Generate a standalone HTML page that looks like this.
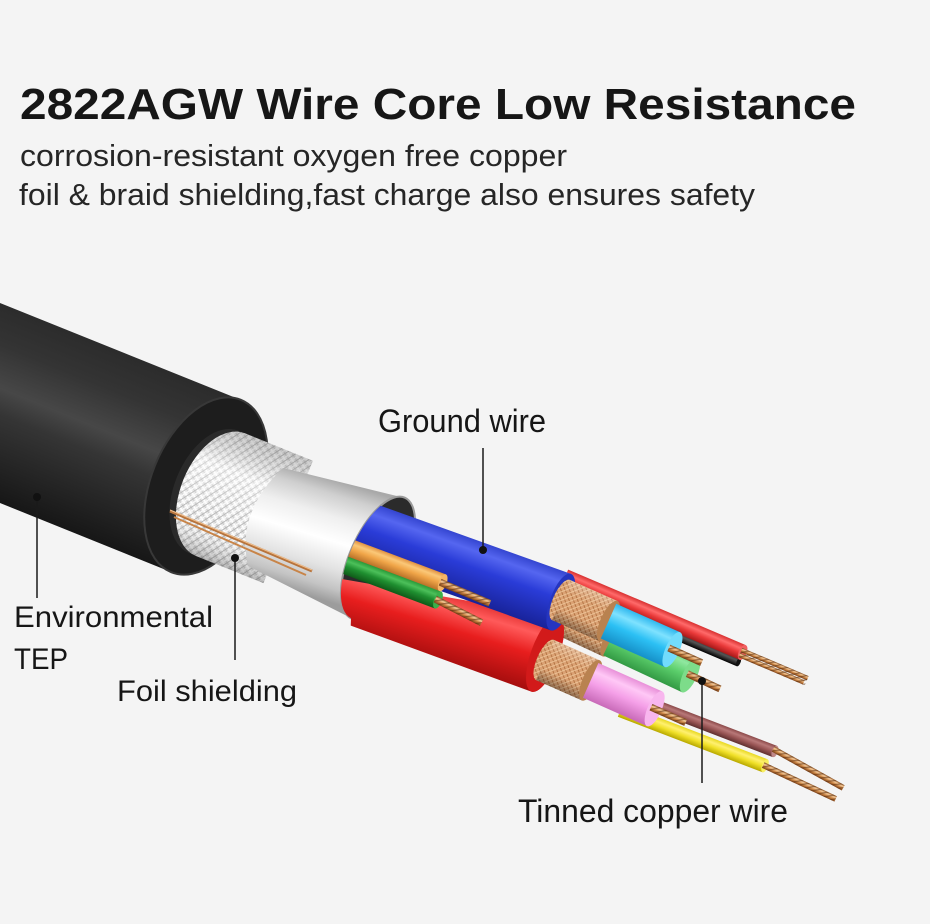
<!DOCTYPE html>
<html><head><meta charset="utf-8"><style>
html,body{margin:0;padding:0;background:#f4f4f4;}
svg{display:block}
text{font-family:"Liberation Sans",Arial,sans-serif;fill:#161616}
</style></head><body>
<svg width="930" height="924" viewBox="0 0 930 924" xmlns="http://www.w3.org/2000/svg">
<defs>
 <linearGradient id="jk" gradientUnits="userSpaceOnUse" x1="130" y1="357" x2="60" y2="529">
  <stop offset="0" stop-color="#2c2c2c"/><stop offset="0.2" stop-color="#343434"/>
  <stop offset="0.42" stop-color="#474747"/><stop offset="0.55" stop-color="#353535"/>
  <stop offset="0.8" stop-color="#242424"/><stop offset="1" stop-color="#161616"/>
 </linearGradient>
 <linearGradient id="fo" gradientUnits="userSpaceOnUse" x1="335" y1="480" x2="300" y2="593">
  <stop offset="0" stop-color="#a9a9a9"/><stop offset="0.12" stop-color="#cfcfcf"/>
  <stop offset="0.3" stop-color="#efefef"/><stop offset="0.5" stop-color="#ffffff"/>
  <stop offset="0.72" stop-color="#e3e3e3"/><stop offset="0.88" stop-color="#c4c4c4"/>
  <stop offset="1" stop-color="#9c9c9c"/>
 </linearGradient>
 <linearGradient id="gRb" gradientUnits="userSpaceOnUse" x1="460" y1="596" x2="440" y2="662">
  <stop offset="0" stop-color="#e23030"/><stop offset="0.2" stop-color="#ff5a5a"/>
  <stop offset="0.5" stop-color="#e81e1e"/><stop offset="1" stop-color="#a80e0e"/>
 </linearGradient>
 <linearGradient id="sh" x1="0" y1="0" x2="0" y2="1">
  <stop offset="0" stop-color="#fff" stop-opacity="0.25"/><stop offset="0.3" stop-color="#fff" stop-opacity="0"/>
  <stop offset="0.7" stop-color="#000" stop-opacity="0"/><stop offset="1" stop-color="#000" stop-opacity="0.35"/>
 </linearGradient>
 <linearGradient id="bsh" x1="0" y1="0" x2="0" y2="1">
  <stop offset="0" stop-color="#777" stop-opacity="0.35"/><stop offset="0.3" stop-color="#fff" stop-opacity="0.5"/>
  <stop offset="0.5" stop-color="#fff" stop-opacity="0.3"/><stop offset="0.75" stop-color="#fff" stop-opacity="0.05"/>
  <stop offset="1" stop-color="#555" stop-opacity="0.4"/>
 </linearGradient>
 <linearGradient id="gB" x1="0" y1="0" x2="0" y2="1">
  <stop offset="0" stop-color="#3445d0"/><stop offset="0.18" stop-color="#5566f0"/>
  <stop offset="0.45" stop-color="#2a3cd8"/><stop offset="1" stop-color="#18239a"/>
 </linearGradient>
 <linearGradient id="gO" x1="0" y1="0" x2="0" y2="1">
  <stop offset="0" stop-color="#e09040"/><stop offset="0.25" stop-color="#fbc878"/>
  <stop offset="0.55" stop-color="#f0a548"/><stop offset="1" stop-color="#b87028"/>
 </linearGradient>
 <linearGradient id="gG" x1="0" y1="0" x2="0" y2="1">
  <stop offset="0" stop-color="#2a9a38"/><stop offset="0.25" stop-color="#4cc05a"/>
  <stop offset="0.55" stop-color="#1f8f30"/><stop offset="1" stop-color="#0f5a18"/>
 </linearGradient>
 <linearGradient id="gC" x1="0" y1="0" x2="0" y2="1">
  <stop offset="0" stop-color="#30b8ee"/><stop offset="0.25" stop-color="#7fe2ff"/>
  <stop offset="0.55" stop-color="#2cc0f4"/><stop offset="1" stop-color="#1690c8"/>
 </linearGradient>
 <linearGradient id="gL" x1="0" y1="0" x2="0" y2="1">
  <stop offset="0" stop-color="#50c060"/><stop offset="0.25" stop-color="#90e8a0"/>
  <stop offset="0.55" stop-color="#5ccf6c"/><stop offset="1" stop-color="#339a44"/>
 </linearGradient>
 <linearGradient id="gP" x1="0" y1="0" x2="0" y2="1">
  <stop offset="0" stop-color="#e890d8"/><stop offset="0.25" stop-color="#ffc8f6"/>
  <stop offset="0.55" stop-color="#f5a0e8"/><stop offset="1" stop-color="#c86ab8"/>
 </linearGradient>
 <linearGradient id="gY" x1="0" y1="0" x2="0" y2="1">
  <stop offset="0" stop-color="#e8d820"/><stop offset="0.3" stop-color="#fff070"/>
  <stop offset="0.6" stop-color="#f0e028"/><stop offset="1" stop-color="#b8a800"/>
 </linearGradient>
 <linearGradient id="gN" x1="0" y1="0" x2="0" y2="1">
  <stop offset="0" stop-color="#8a4848"/><stop offset="0.3" stop-color="#b87878"/>
  <stop offset="0.6" stop-color="#9a5656"/><stop offset="1" stop-color="#603030"/>
 </linearGradient>
 <linearGradient id="gT" x1="0" y1="0" x2="0" y2="1">
  <stop offset="0" stop-color="#d83030"/><stop offset="0.3" stop-color="#ff6a6a"/>
  <stop offset="0.6" stop-color="#e83838"/><stop offset="1" stop-color="#a81818"/>
 </linearGradient>
 <linearGradient id="gK" x1="0" y1="0" x2="0" y2="1">
  <stop offset="0" stop-color="#333"/><stop offset="0.4" stop-color="#555"/><stop offset="1" stop-color="#000"/>
 </linearGradient>
 <linearGradient id="gU" x1="0" y1="0" x2="0" y2="1">
  <stop offset="0" stop-color="#8a5020"/><stop offset="0.3" stop-color="#f3c99a"/>
  <stop offset="0.6" stop-color="#d08a48"/><stop offset="1" stop-color="#7a4018"/>
 </linearGradient>
 <pattern id="bw" width="6" height="6" patternUnits="userSpaceOnUse" patternTransform="rotate(35)">
  <rect width="6" height="6" fill="#e4e4e4"/>
  <rect width="6" height="1.6" fill="#ffffff"/>
  <rect y="3.2" width="6" height="0.8" fill="#bdbdbd"/>
  <rect width="0.9" height="6" fill="#a8a8a8"/>
  <rect x="3" width="1.2" height="6" fill="#fbfbfb"/>
 </pattern>
 <pattern id="cb" width="4" height="4" patternUnits="userSpaceOnUse" patternTransform="rotate(45)">
  <rect width="4" height="4" fill="#dba274"/>
  <rect width="4" height="0.9" fill="#b07040"/>
  <rect width="0.8" height="4" fill="#f0c89c"/>
 </pattern>
 <pattern id="tw" width="4" height="4" patternUnits="userSpaceOnUse" patternTransform="rotate(55)">
  <rect width="1.3" height="4" fill="rgba(90,45,15,0.55)"/>
 </pattern>
 <clipPath id="wc">
  <ellipse cx="378" cy="558" rx="28" ry="66" transform="rotate(24 378 558)"/>
  <polygon points="405,498 420,0 930,0 930,924 340,924 351,618"/>
 </clipPath>
</defs>

<rect width="930" height="924" fill="#f4f4f4"/>

<!-- header text -->
<text x="20" y="119" font-size="44" font-weight="bold" textLength="836" lengthAdjust="spacingAndGlyphs">2822AGW Wire Core Low Resistance</text>
<text x="20" y="166" font-size="31" textLength="547" lengthAdjust="spacingAndGlyphs" style="fill:#262626">corrosion-resistant oxygen free copper</text>
<text x="19" y="205" font-size="31" textLength="736" lengthAdjust="spacingAndGlyphs" style="fill:#262626">foil &amp; braid shielding,fast charge also ensures safety</text>

<!-- jacket -->
<path d="M0,303 L241,400 L171,572 L0,503 Z" fill="url(#jk)"/>
<g transform="translate(206,486) rotate(22)">
 <ellipse rx="55" ry="93" fill="#1d1d1d" stroke="#383838" stroke-width="2"/>
</g>
<!-- braid -->
<g transform="translate(214,492) rotate(22)">
 <ellipse rx="40" ry="66" fill="#2a2a2a"/>
 <path d="M7,-66 L80,-66 L80,66 L7,66 A40,66 0 0 1 7,-66 Z" fill="url(#bw)"/>
 <path d="M7,-66 L80,-66 L80,66 L7,66 A40,66 0 0 1 7,-66 Z" fill="url(#bsh)"/>
</g>

<!-- foil tube -->
<path d="M283,468 L405,498 A28,66 24 0 1 351,618 L248,566 Q236,512 283,468 Z" fill="url(#fo)"/>
<ellipse cx="378" cy="558" rx="28" ry="66" transform="rotate(24 378 558)" fill="#2b2b2b" stroke="#9a9a9a" stroke-width="2"/>

<!-- drain wire -->
<line x1="170" y1="511" x2="312" y2="571" stroke="#b8743c" stroke-width="3"/>
<line x1="170" y1="510" x2="312" y2="570" stroke="#f0c090" stroke-width="1"/>
<line x1="174" y1="517" x2="306" y2="575" stroke="#c88448" stroke-width="2"/>

<!-- wires -->
<g clip-path="url(#wc)">
 <g transform="translate(560,576) rotate(23)">
  <rect x="5" y="5" width="193" height="9" fill="url(#gK)"/>
  <ellipse cx="198" cy="9.5" rx="2" ry="4.5" fill="#111"/>
  <rect x="5" y="-9" width="193" height="16" fill="url(#gT)"/>
  <ellipse cx="198" cy="-1" rx="4" ry="8" fill="#f06060"/>
  <rect x="196" y="-5" width="72" height="4.5" fill="url(#gU)"/>
  <rect x="196" y="0.5" width="70" height="4.5" fill="url(#gU)"/>
  <rect x="196" y="-5" width="72" height="10" fill="url(#tw)"/>
 </g>
 <g transform="translate(555,612) rotate(25)">
  <rect x="0" y="-20" width="62" height="40" fill="url(#cb)"/>
  <rect x="0" y="-20" width="62" height="40" fill="url(#sh)"/>
  <ellipse cx="62" rx="7" ry="20" fill="#b98250"/>
  <rect x="62" y="-19" width="87" height="38" fill="url(#gL)"/>
  <ellipse cx="149" rx="7" ry="19" fill="#7ddc8a"/>
  <rect x="146" y="-3.5" width="36" height="7" fill="url(#gU)"/>
  <rect x="146" y="-3.5" width="36" height="7" fill="url(#tw)"/>
 </g>
 <g transform="translate(633,697) rotate(21)">
  <rect x="-5" y="-6" width="157" height="12" fill="url(#gN)"/>
  <ellipse cx="152" rx="3" ry="6" fill="#c08888"/>
 </g>
 <g transform="translate(625,712) rotate(21)">
  <rect x="-5" y="-7" width="155" height="14" fill="url(#gY)"/>
  <ellipse cx="150" rx="3" ry="7" fill="#f8ee60"/>
 </g>
 <g transform="translate(775,750) rotate(29)">
  <rect x="-2" y="-3" width="80" height="6" fill="url(#gU)"/>
  <rect x="-2" y="-3" width="80" height="6" fill="url(#tw)"/>
 </g>
 <g transform="translate(765,766) rotate(25)">
  <rect x="-2" y="-3" width="80" height="6" fill="url(#gU)"/>
  <rect x="-2" y="-3" width="80" height="6" fill="url(#tw)"/>
 </g>
 <path d="M330,577 L558.7,616.4 A14,40 20 0 1 531.3,691.6 L330,618 Z" fill="url(#gRb)"/>
 <ellipse cx="545" cy="654" rx="14" ry="40" transform="rotate(20 545 654)" fill="#d21a1a"/>
 <g transform="translate(365,532) rotate(19.7)">
  <rect x="-40" y="-30" width="248" height="60" fill="url(#gB)"/>
  <ellipse cx="208" rx="11" ry="30" fill="#2535c0"/>
 </g>
 <g transform="translate(350,548) rotate(20.6)">
  <rect x="-30" y="-9" width="129" height="18" fill="url(#gO)"/>
  <ellipse cx="99" rx="4" ry="9" fill="#f5b565"/>
 </g>
 <g transform="translate(350,567) rotate(20.6)">
  <rect x="-30" y="-9" width="124" height="18" fill="url(#gG)"/>
  <ellipse cx="94" rx="4" ry="9" fill="#3cb04a"/>
 </g>
 <g transform="translate(442,583) rotate(23)">
  <rect x="-2" y="-3.5" width="54" height="7" fill="url(#gU)"/>
  <rect x="-2" y="-3.5" width="54" height="7" fill="url(#tw)"/>
 </g>
 <g transform="translate(437,600) rotate(27)">
  <rect x="-2" y="-3.5" width="52" height="7" fill="url(#gU)"/>
  <rect x="-2" y="-3.5" width="52" height="7" fill="url(#tw)"/>
 </g>
 <g transform="translate(561,600) rotate(24)">
  <ellipse rx="8" ry="22" fill="url(#cb)"/>
  <rect x="0" y="-22" width="52" height="44" fill="url(#cb)"/>
  <rect x="0" y="-22" width="52" height="44" fill="url(#sh)"/>
  <ellipse cx="52" rx="8" ry="22" fill="#b98250"/>
  <rect x="52" y="-19" width="70" height="38" fill="url(#gC)"/>
  <ellipse cx="122" rx="7" ry="19" fill="#72dcfc"/>
  <rect x="118" y="-3.5" width="36" height="7" fill="url(#gU)"/>
  <rect x="118" y="-3.5" width="36" height="7" fill="url(#tw)"/>
 </g>
 <g transform="translate(545,660) rotate(24)">
  <ellipse rx="8" ry="22" fill="url(#cb)"/>
  <rect x="0" y="-22" width="50" height="44" fill="url(#cb)"/>
  <rect x="0" y="-22" width="50" height="44" fill="url(#sh)"/>
  <ellipse cx="50" rx="8" ry="22" fill="#b98250"/>
  <rect x="50" y="-19" width="70" height="38" fill="url(#gP)"/>
  <ellipse cx="120" rx="7" ry="19" fill="#f8b6ee"/>
  <rect x="116" y="-3.5" width="38" height="7" fill="url(#gU)"/>
  <rect x="116" y="-3.5" width="38" height="7" fill="url(#tw)"/>
 </g>
</g>

<!-- leader lines -->
<g stroke="#1a1a1a" stroke-width="1.5">
 <line x1="483" y1="448" x2="483" y2="550"/>
 <line x1="37" y1="497" x2="37" y2="598"/>
 <line x1="235" y1="558" x2="235" y2="660"/>
 <line x1="702" y1="681" x2="702" y2="783"/>
</g>
<g fill="#111">
 <circle cx="483" cy="550" r="4"/>
 <circle cx="37" cy="497" r="4"/>
 <circle cx="235" cy="558" r="4"/>
 <circle cx="702" cy="681" r="4"/>
</g>

<!-- labels -->
<text x="378" y="432" font-size="32" textLength="168" lengthAdjust="spacingAndGlyphs">Ground wire</text>
<text x="14" y="627" font-size="30" textLength="199" lengthAdjust="spacingAndGlyphs">Environmental</text>
<text x="14" y="669" font-size="30" textLength="54" lengthAdjust="spacingAndGlyphs">TEP</text>
<text x="117" y="701" font-size="30" textLength="180" lengthAdjust="spacingAndGlyphs">Foil shielding</text>
<text x="518" y="822" font-size="32" textLength="270" lengthAdjust="spacingAndGlyphs">Tinned copper wire</text>
</svg>
</body></html>
